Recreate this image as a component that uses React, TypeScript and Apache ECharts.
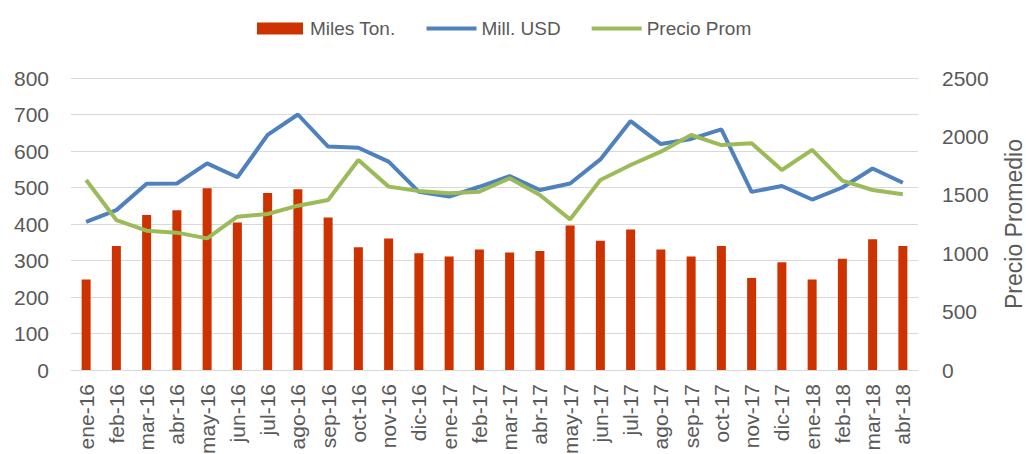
import React, { useEffect, useRef } from "react";
import * as echarts from "echarts";

const categories = [
  "ene-16", "feb-16", "mar-16", "abr-16", "may-16", "jun-16", "jul-16", "ago-16", "sep-16", "oct-16", "nov-16", "dic-16",
  "ene-17", "feb-17", "mar-17", "abr-17", "may-17", "jun-17", "jul-17", "ago-17", "sep-17", "oct-17", "nov-17", "dic-17",
  "ene-18", "feb-18", "mar-18", "abr-18",
];

const milesTon = [
  248, 340, 425, 438, 498, 404, 485, 495, 418, 336, 360, 320,
  311, 330, 322, 326, 396, 354, 385, 330, 311, 340, 252, 295,
  248, 305, 358, 340,
];

const millUSD = [
  406, 438, 510, 511, 566, 528, 644, 700, 612, 609, 571, 488,
  475, 502, 531, 493, 511, 577, 682, 619, 633, 659, 488, 504,
  467, 500, 552, 513,
];

const precioProm = [
  1627, 1284, 1193, 1176, 1127, 1313, 1336, 1407, 1455, 1798, 1570, 1532,
  1513, 1527, 1641, 1498, 1290, 1627, 1755, 1869, 2012, 1926, 1941, 1712,
  1884, 1621, 1541, 1504,
];

const FONT = "Liberation Sans";
const GRAY = "#595959";

export default function App() {
  const ref = useRef<HTMLDivElement>(null);

  useEffect(() => {
    document.body.style.margin = "0";
    document.body.style.overflow = "hidden";
    if (!ref.current) return;
    const chart = echarts.init(ref.current, null, { renderer: "svg" });
    chart.setOption({
      animation: false,
      textStyle: { fontFamily: FONT },
      legend: {
        left: 252,
        top: 14,
        itemWidth: 50,
        itemHeight: 12,
        itemGap: 31,
        textStyle: { fontSize: 19, color: GRAY, fontFamily: FONT },
        data: [
          { name: "Miles Ton.", icon: "path://M0,0 L46,0 L46,12 L0,12 Z" },
          { name: "Mill. USD", icon: "path://M0,0 L50,0 L50,4 L0,4 Z" },
          { name: "Precio Prom", icon: "path://M0,0 L50,0 L50,4 L0,4 Z" },
        ],
      },
      grid: {
        left: 71,
        right: 108,
        top: 78,
        bottom: 84,
        containLabel: false,
        outerBoundsMode: "none",
      },
      xAxis: {
        type: "category",
        data: categories,
        boundaryGap: true,
        axisLine: { show: true, lineStyle: { color: "#D9D9D9", width: 1 } },
        axisTick: { show: false },
        axisLabel: {
          rotate: 90,
          interval: 0,
          margin: 14,
          fontSize: 21,
          color: GRAY,
          fontFamily: FONT,
        },
      },
      yAxis: [
        {
          type: "value",
          min: 0,
          max: 800,
          interval: 100,
          axisLine: { show: false },
          axisTick: { show: false },
          axisLabel: { fontSize: 21, color: GRAY, margin: 22, fontFamily: FONT },
          splitLine: { lineStyle: { color: "#D9D9D9", width: 1 } },
        },
        {
          type: "value",
          min: 0,
          max: 2500,
          interval: 500,
          position: "right",
          name: "Precio Promedio",
          nameLocation: "middle",
          nameGap: 84,
          nameTextStyle: { fontSize: 23, color: GRAY, fontFamily: FONT },
          axisLine: { show: false },
          axisTick: { show: false },
          axisLabel: {
            fontSize: 21,
            color: GRAY,
            margin: 24,
            fontFamily: FONT,
            formatter: (v: number) => String(v),
          },
          splitLine: { show: false },
        },
      ],
      series: [
        {
          name: "Miles Ton.",
          type: "bar",
          data: milesTon,
          barWidth: 9,
          itemStyle: { color: "#CC3300" },
          yAxisIndex: 0,
        },
        {
          name: "Mill. USD",
          type: "line",
          data: millUSD,
          yAxisIndex: 0,
          symbol: "none",
          lineStyle: { color: "#4F81BD", width: 4 },
          itemStyle: { color: "#4F81BD" },
        },
        {
          name: "Precio Prom",
          type: "line",
          data: precioProm,
          yAxisIndex: 1,
          symbol: "none",
          lineStyle: { color: "#9BBB59", width: 4 },
          itemStyle: { color: "#9BBB59" },
        },
      ],
    });
    return () => chart.dispose();
  }, []);

  return <div ref={ref} style={{ width: 1026, height: 454 }} />;
}
